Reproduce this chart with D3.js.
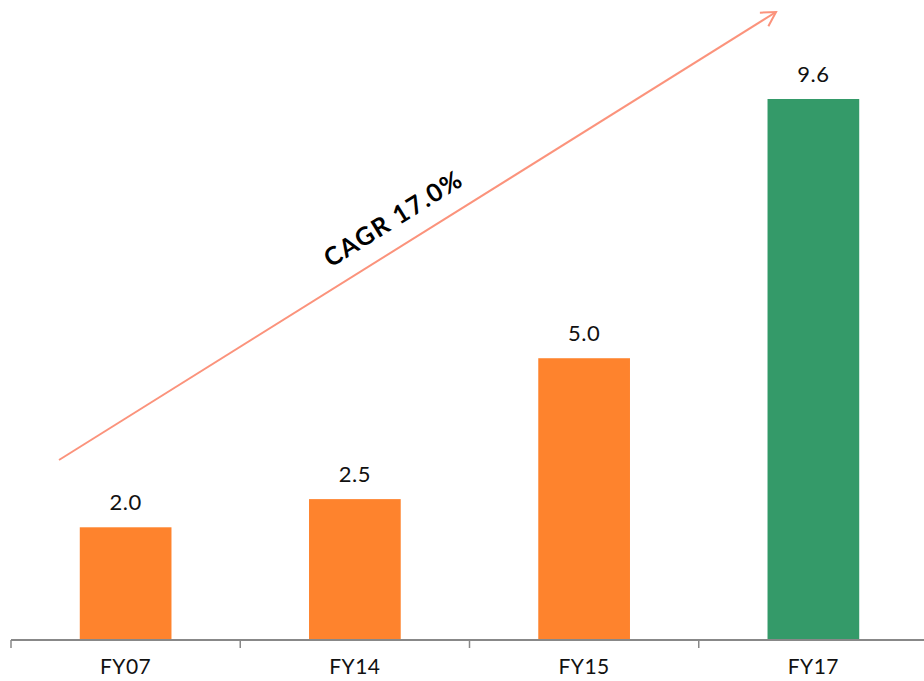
<!DOCTYPE html>
<html>
<head>
<meta charset="utf-8">
<script src="https://cdn.jsdelivr.net/npm/d3@7"></script>
<style>
  body { margin: 0; background: #fff; }
  text { font-family: "Century Gothic", "URW Gothic", Lato, "Noto Sans", sans-serif; }
</style>
</head>
<body>
<div id="chart"></div>
<script>
var w = 924, h = 681;
var years = ['FY07', 'FY14', 'FY15', 'FY17'];
var values = [2.0, 2.5, 5.0, 9.6];
var colors = ['#fe832d', '#fe832d', '#fe832d', '#349a69'];
var cagrLabel = 'CAGR 17.0%';

var svg = d3.select("#chart").append("svg")
  .attr("width", w).attr("height", h);

var x = d3.scaleBand().domain(years).range([11, 928])
  .paddingInner(0.6).paddingOuter(0.3);
var y = d3.scaleLinear().domain([0, 9.6]).range([640, 99]);

// bars
svg.selectAll("rect.bar")
  .data(values).enter()
  .append("rect").attr("class", "bar")
  .attr("x", function(d, i) { return x(years[i]); })
  .attr("width", x.bandwidth())
  .attr("y", function(d) { return y(d); })
  .attr("height", function(d) { return y(0) - y(d); })
  .attr("fill", function(d, i) { return colors[i]; });

// value labels
svg.selectAll("text.val")
  .data(values).enter()
  .append("text").attr("class", "val")
  .attr("x", function(d, i) { return x(years[i]) + x.bandwidth() / 2; })
  .attr("y", function(d) { return y(d) - 17; })
  .attr("text-anchor", "middle")
  .attr("font-size", 22)
  .attr("letter-spacing", 0.5)
  .attr("fill", "#111")
  .text(function(d) { return d.toFixed(1); });

// x axis, ticks at band boundaries
var axis = svg.append("g");
axis.append("line")
  .attr("x1", 11).attr("x2", w).attr("y1", 640).attr("y2", 640)
  .attr("stroke", "#888").attr("stroke-width", 2);
axis.selectAll("line.tick")
  .data(years).enter()
  .append("line").attr("class", "tick")
  .attr("x1", function(d) { return x(d) - x.step() * x.paddingOuter(); })
  .attr("x2", function(d) { return x(d) - x.step() * x.paddingOuter(); })
  .attr("y1", 640).attr("y2", 648)
  .attr("stroke", "#888").attr("stroke-width", 1.5);
axis.selectAll("text")
  .data(years).enter()
  .append("text")
  .attr("x", function(d) { return x(d) + x.bandwidth() / 2; })
  .attr("y", 674)
  .attr("text-anchor", "middle")
  .attr("font-size", 21)
  .attr("letter-spacing", 0.5)
  .attr("fill", "#111")
  .text(function(d) { return d; });

// CAGR arrow
var x0 = 59, y0 = 460, x1 = 776, y1 = 12;
var ang = Math.atan2(y1 - y0, x1 - x0) * 180 / Math.PI;
svg.append("line")
  .attr("x1", x0).attr("y1", y0).attr("x2", x1).attr("y2", y1)
  .attr("stroke", "#fb937c").attr("stroke-width", 2);
svg.append("path")
  .attr("d", "M-14,-8 L0,0 L-14,8")
  .attr("transform", "translate(" + x1 + "," + y1 + ") rotate(" + ang + ")")
  .attr("fill", "none").attr("stroke", "#fb937c").attr("stroke-width", 2);

svg.append("text")
  .attr("transform", "translate(398,226) rotate(" + ang + ")")
  .attr("text-anchor", "middle")
  .attr("font-size", 25)
  .attr("font-weight", "bold")
  .attr("letter-spacing", 1.5)
  .attr("fill", "#000")
  .text(cagrLabel);
</script>
</body>
</html>
